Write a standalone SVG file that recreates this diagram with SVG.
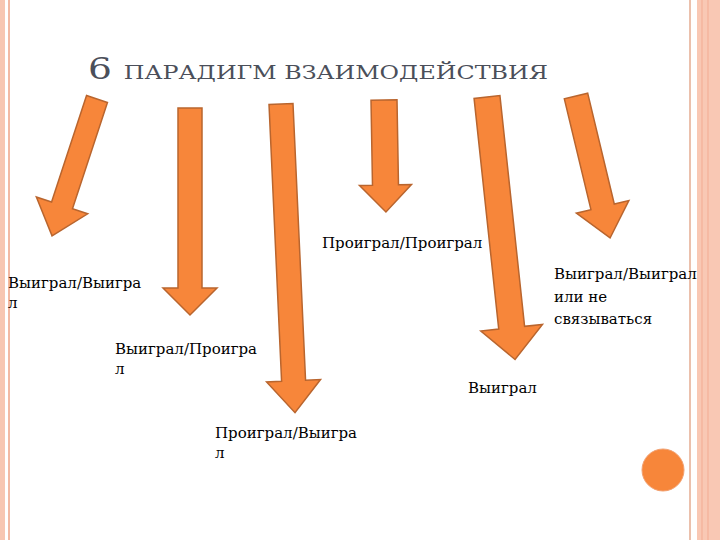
<svg xmlns="http://www.w3.org/2000/svg" width="720" height="540" viewBox="0 0 720 540">
<defs>
<style>
.a{fill:#f7863a;stroke:#b9652e;stroke-width:1.5}
.t{font-family:"DejaVu Serif","Liberation Serif",serif;font-size:15px;fill:#000}
.h{font-family:"DejaVu Serif","Liberation Serif",serif;fill:#4b4f5a}
</style>
</defs>
<rect width="720" height="540" fill="#fff"/>
<rect x="0" y="0" width="5" height="540" fill="#f7c6b2"/>
<line x1="9" y1="0" x2="9" y2="540" stroke="#f2b9a4" stroke-width="2"/>
<line x1="690" y1="0" x2="690" y2="540" stroke="#ebc0ac" stroke-width="2"/>
<rect x="697" y="0" width="23" height="540" fill="#f9c8b4"/>
<line x1="702" y1="0" x2="702" y2="540" stroke="#f3ab92" stroke-width="1"/>
<line x1="708" y1="0" x2="708" y2="540" stroke="#f3ab92" stroke-width="1"/>
<text class="h" x="88" y="79" textLength="460" lengthAdjust="spacingAndGlyphs"><tspan font-size="30">6 </tspan><tspan font-size="19">ПАРАДИГМ ВЗАИМОДЕЙСТВИЯ</tspan></text>
<g id="connectors">
<path class="a" transform="translate(97,99) rotate(18.2)" d="M-11,0 L-11,112 L-27,112 L0,144 L27,112 L11,112 L11,0 Z"/>
<path class="a" transform="translate(190,108)" d="M-12,0 L-12,180 L-27,180 L0,207 L27,180 L12,180 L12,0 Z"/>
<path class="a" transform="translate(281,104) rotate(-2.6)" d="M-12,0 L-12,277 L-27,277 L0,309 L27,277 L12,277 L12,0 Z"/>
<path class="a" transform="translate(384,100) rotate(-1)" d="M-13,0 L-13,85 L-26,85 L0,112 L26,85 L13,85 L13,0 Z"/>
<path class="a" transform="translate(487,97) rotate(-6.1)" d="M-13,0 L-13,232 L-31,232 L0,264 L31,232 L13,232 L13,0 Z"/>
<path class="a" transform="translate(576,96) rotate(-13.5)" d="M-12,0 L-12,114 L-27,114 L0,146 L27,114 L12,114 L12,0 Z"/>
</g>
<g id="n1"><text class="t" x="8" y="288">Выиграл/Выигра</text><text class="t" x="8" y="308">л</text></g>
<g id="n2"><text class="t" x="115" y="354">Выиграл/Проигра</text><text class="t" x="115" y="374">л</text></g>
<g id="n3"><text class="t" x="215" y="438">Проиграл/Выигра</text><text class="t" x="215" y="458">л</text></g>
<g id="n4"><text class="t" x="322" y="248">Проиграл/Проиграл</text></g>
<g id="n5"><text class="t" x="468" y="393">Выиграл</text></g>
<g id="n6"><text class="t" x="554" y="279">Выиграл/Выиграл</text><text class="t" x="554" y="302">или не</text><text class="t" x="554" y="324">связываться</text></g>
<circle cx="663" cy="470" r="21" fill="#f7863a" stroke="#f2a070" stroke-width="1"/>
</svg>
